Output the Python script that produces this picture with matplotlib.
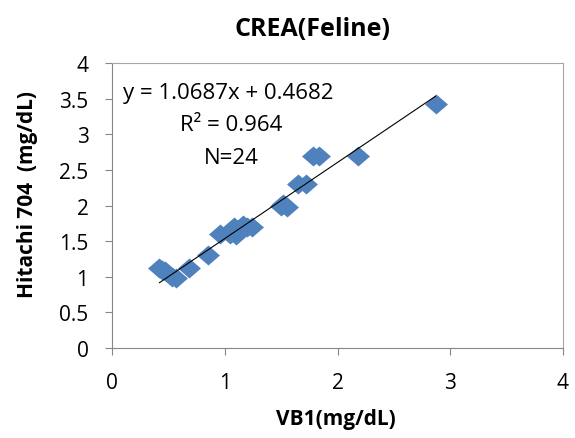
import numpy as np
import matplotlib.pyplot as plt

# VB1 vs Hitachi 704 creatinine, feline samples (mg/dL)
vb1 = [0.42, 0.44, 0.47, 0.53, 0.57, 0.68, 0.85, 0.96, 1.05, 1.08, 1.10, 1.12,
       1.16, 1.20, 1.24, 1.50, 1.52, 1.55, 1.65, 1.72, 1.78, 1.84, 2.18, 2.87]
hitachi = [1.12, 1.10, 1.08, 1.00, 0.98, 1.12, 1.30, 1.60, 1.60, 1.70, 1.58, 1.65,
           1.72, 1.70, 1.70, 2.00, 2.02, 1.98, 2.30, 2.30, 2.70, 2.70, 2.70, 3.42]

slope, intercept = 1.0687, 0.4682

plt.rcParams['font.family'] = ['Open Sans', 'DejaVu Sans']

fig = plt.figure(figsize=(5.75, 4.39), dpi=100)
ax = fig.add_axes([0.195, 0.205, 0.784, 0.649])

# slightly flattened diamond
diamond = [(-1, 0), (0, 0.87), (1, 0), (0, -0.87), (-1, 0)]
ax.plot(vb1, hitachi, linestyle='none', marker=diamond, markersize=16.5,
        markeredgewidth=0, color='#4F81BD', zorder=2)

xs = np.array([min(vb1), max(vb1)])
ax.plot(xs, slope * xs + intercept, color='black', linewidth=0.8, zorder=3)

ax.set_xlim(0, 4)
ax.set_ylim(0, 4)
ax.set_xticks([0, 1, 2, 3, 4])
ax.set_yticks(np.arange(0, 4.01, 0.5))
ax.set_yticklabels(['0', '0.5', '1', '1.5', '2', '2.5', '3', '3.5', '4'])
ax.tick_params(direction='out', length=5, color='#868686', labelsize=15)
ax.tick_params(axis='y', pad=12)
ax.tick_params(axis='x', pad=12)

for side in ['left', 'bottom']:
    ax.spines[side].set_color('#868686')
for side in ['top', 'right']:
    ax.spines[side].set_color('#A6A6A6')

fig.text(312 / 575, 1 - 29 / 439, 'CREA(Feline)', fontsize=18, fontweight='bold',
         ha='center', va='center')
fig.text(336 / 575, 1 - 420 / 439, 'VB1(mg/dL)', fontsize=15, fontweight='bold',
         ha='center', va='center')
fig.text(28 / 575, 1 - 195 / 439, 'Hitachi 704  (mg/dL)', fontsize=15,
         fontweight='bold', ha='center', va='center', rotation=90)

ax.text(1.03, 3.59, 'y = 1.0687x + 0.4682', fontsize=16, ha='center', va='center')
ax.text(1.06, 3.14, 'R² = 0.964', fontsize=16, ha='center', va='center')
ax.text(1.06, 2.68, 'N=24', fontsize=16, ha='center', va='center')

fig.savefig('out.png', dpi=100)
